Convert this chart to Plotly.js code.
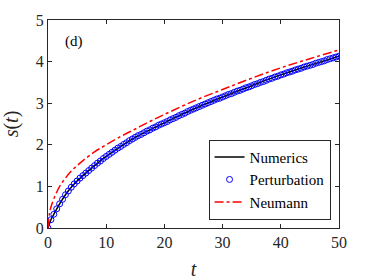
<!DOCTYPE html>
<html><head><meta charset="utf-8">
<script src="https://cdn.plot.ly/plotly-3.0.1.min.js"></script>
<style>html,body{margin:0;padding:0;background:#fff}</style>
</head><body>
<div id="chart" style="width:374px;height:280px"></div>
<script>
var numT = [0,0.5,1,2,3,4,5,6,8,10,12.5,15,17.5,20,25,30,35,40,45,50];
var numS = [0,0.20,0.33,0.58,0.80,0.98,1.13,1.26,1.50,1.72,1.96,2.18,2.36,2.53,2.86,3.15,3.42,3.68,3.91,4.13];

var pertT = [0,0.5,1,1.5,2,2.5,3,3.5,4,4.5,5,5.5,6,6.5,7,7.5,8,8.5,9,9.5,10,10.5,11,11.5,12,12.5,13,13.5,14,14.5,15,15.5,16,16.5,17,17.5,18,18.5,19,19.5,20,20.5,21,21.5,22,22.5,23,23.5,24,24.5,25,25.5,26,26.5,27,27.5,28,28.5,29,29.5,30,30.5,31,31.5,32,32.5,33,33.5,34,34.5,35,35.5,36,36.5,37,37.5,38,38.5,39,39.5,40,40.5,41,41.5,42,42.5,43,43.5,44,44.5,45,45.5,46,46.5,47,47.5,48,48.5,49,49.5,50];
var pertS = [0,0.20,0.33,0.46,0.58,0.69,0.80,0.89,0.98,1.06,1.13,1.20,1.26,1.32,1.38,1.44,1.50,1.56,1.61,1.67,1.72,1.77,1.82,1.87,1.92,1.96,2.01,2.05,2.10,2.14,2.18,2.22,2.25,2.29,2.33,2.36,2.40,2.43,2.47,2.50,2.53,2.56,2.60,2.63,2.66,2.70,2.73,2.76,2.80,2.83,2.86,2.89,2.92,2.95,2.98,3.01,3.04,3.07,3.10,3.12,3.15,3.18,3.21,3.23,3.26,3.29,3.31,3.34,3.37,3.39,3.42,3.45,3.47,3.50,3.52,3.55,3.58,3.60,3.63,3.65,3.68,3.70,3.73,3.75,3.77,3.80,3.82,3.84,3.87,3.89,3.91,3.93,3.96,3.98,4.00,4.02,4.05,4.07,4.09,4.11,4.13];

var neuT = [0,0.25,0.5,1,2,3,4,5,6,8,10,12.5,15,17.5,20,25,30,35,40,45,50];
var neuS = [0,0.35,0.50,0.70,1.00,1.20,1.37,1.50,1.62,1.83,2.00,2.20,2.38,2.56,2.73,3.05,3.33,3.60,3.85,4.07,4.28];

var xTicks = [0,10,20,30,40,50];
var yTicks = [0,1,2,3,4,5];
var seriesNames = ['Numerics','Perturbation','Neumann'];
var panelLabel = '(d)';

var serif = 'Liberation Serif';
var axisCol = '#262626';

var traces = [
  {x: numT, y: numS, name: seriesNames[0], mode: 'lines', line: {color: '#000', width: 1.5, shape: 'spline'}},
  {x: pertT, y: pertS, name: seriesNames[1], mode: 'markers',
   marker: {symbol: 'circle-open', color: '#0000ff', size: 6, line: {width: 1, color: '#0000ff'}}},
  {x: neuT, y: neuS, name: seriesNames[2], mode: 'lines', line: {color: '#ff0000', width: 1.5, dash: 'dashdot', shape: 'spline'}}
];

function axBase() {
  return {
    showgrid: false, zeroline: false, showline: true, linecolor: axisCol, linewidth: 1,
    mirror: 'ticks', ticks: 'inside', ticklen: 4, tickcolor: axisCol, tickwidth: 1,
    tickfont: {family: serif, size: 16, color: axisCol}
  };
}

var xa = axBase();
xa.range = [0, 50]; xa.tickvals = xTicks; xa.ticktext = xTicks.map(String);
xa.title = {text: '<i>t</i>', font: {family: serif, size: 20, color: axisCol}};
var ya = axBase();
ya.range = [0, 5]; ya.tickvals = yTicks; ya.ticktext = yTicks.map(String);
ya.title = {text: '<i>s</i>(<i>t</i>)', font: {family: serif, size: 20, color: axisCol}};

var layout = {
  width: 374, height: 280,
  margin: {l: 48, r: 35, t: 20, b: 52},
  paper_bgcolor: '#fff', plot_bgcolor: '#fff',
  font: {family: serif},
  showlegend: true,
  xaxis: xa,
  yaxis: ya,
  legend: {x: 0.971, y: 0.04, xanchor: 'right', yanchor: 'bottom', bgcolor: '#fff',
    bordercolor: axisCol, borderwidth: 1, font: {family: serif, size: 15, color: '#000'},
    tracegroupgap: 0, itemwidth: 30},
  annotations: [{text: panelLabel, xref: 'paper', yref: 'paper', x: 0.05, y: 0.895,
    xanchor: 'left', yanchor: 'middle', showarrow: false, font: {family: serif, size: 15, color: '#000'}}]
};

Plotly.newPlot('chart', traces, layout, {staticPlot: true, displayModeBar: false});
</script>
</body></html>
